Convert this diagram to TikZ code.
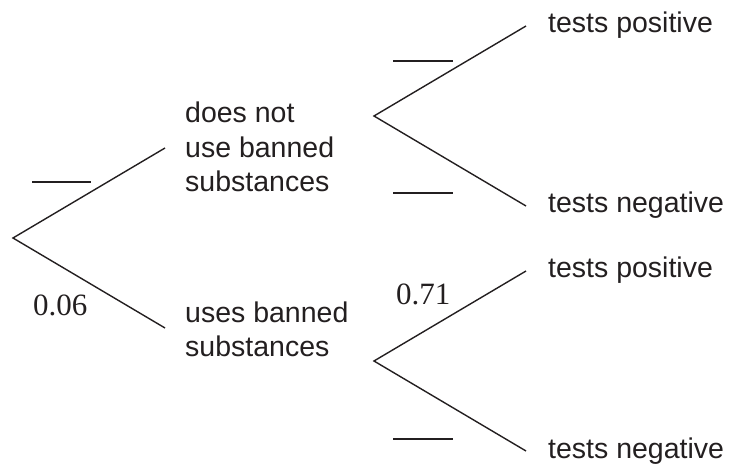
\documentclass[tikz,border=0pt]{standalone}
\usepackage{fontspec}
\setmainfont{Liberation Sans}
\newfontfamily\numfont{Liberation Serif}
\definecolor{ink}{HTML}{231F20}
\begin{document}
\begin{tikzpicture}[x=1pt,y=-1pt,
  branch/.style={draw=ink,line width=1.4pt},
  blankline/.style={draw=ink,line width=1.4pt},
  lbl/.style={anchor=base west,inner sep=0pt,text=ink,font=\fontsize{28.5}{34.5}\selectfont,align=left},
  prob/.style={anchor=base west,inner sep=0pt,text=ink,font=\numfont\fontsize{31}{36}\selectfont}]
\useasboundingbox (0,0) rectangle (729,465);
% roots and branch ends
\coordinate (r1) at (13,238);
\coordinate (a1) at (165,148);
\coordinate (b1) at (165,328);
\coordinate (r2) at (374,116);
\coordinate (a2) at (526,26);
\coordinate (b2) at (526,206);
\coordinate (r3) at (374,361);
\coordinate (a3) at (526,271);
\coordinate (b3) at (526,451);
\draw[branch] (a1) -- (r1) -- (b1);
\draw[branch] (a2) -- (r2) -- (b2);
\draw[branch] (a3) -- (r3) -- (b3);
% outcome labels (base anchor = baseline of last line)
\node[lbl] (dn) at (185,192) {does not\\use banned\\substances};
\node[lbl] (ub) at (185,356.5) {uses banned\\substances};
\node[lbl] (tp1) at (548,33) {tests positive};
\node[lbl] (tn1) at (548,213) {tests negative};
\node[lbl] (tp2) at (548,278) {tests positive};
\node[lbl] (tn2) at (548,458) {tests negative};
% probabilities
\node[prob] (p1) at (33,316) {0.06};
\node[prob] (p2) at (396,305) {0.71};
% blanks
\draw[blankline] (32,182) -- (91,182);
\draw[blankline] (393,61) -- (453,61);
\draw[blankline] (393,193) -- (453,193);
\draw[blankline] (393,439) -- (453,439);
\end{tikzpicture}
\end{document}
